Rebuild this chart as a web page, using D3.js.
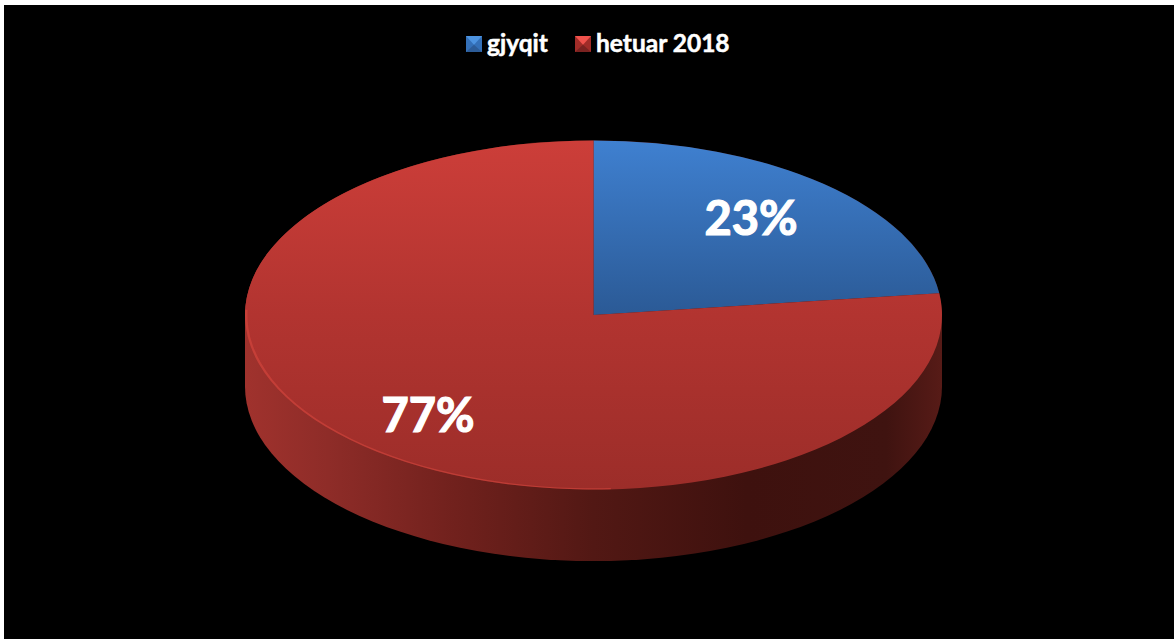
<!DOCTYPE html>
<html><head><meta charset="utf-8">
<script src="https://cdnjs.cloudflare.com/ajax/libs/d3/7.8.5/d3.min.js"></script>
<style>html,body{margin:0;padding:0;background:#fff;overflow:hidden}svg{display:block}text{font-family:Lato,sans-serif;font-weight:700;fill:#fff;stroke:#fff}</style>
</head><body><svg id="c" width="1174" height="639"></svg>
<script>
const categories = ["gjyqit", "hetuar 2018"];
const seriesValues = [23, 77];
const percentLabels = ["23%", "77%"];

const svg = d3.select("#c");
const defs = svg.append("defs");
svg.append("rect").attr("x",4).attr("y",5).attr("width",1170).attr("height",634).attr("fill","#000");

const cx=593.5, cy=315, rx=348.5, ry=174.5, depth=71.5;
const R=100;
const pie=d3.pie().sort(null).value(d=>d);
const arcs=pie(seriesValues);
const arcGen=d3.arc().innerRadius(0).outerRadius(R);

function lg(id,stops,x1,y1,x2,y2){
  const g=defs.append("linearGradient").attr("id",id).attr("gradientUnits","userSpaceOnUse")
   .attr("x1",x1).attr("y1",y1).attr("x2",x2).attr("y2",y2);
  stops.forEach(s=>g.append("stop").attr("offset",s[0]).attr("stop-color",s[1]));
}
lg("side",[[0,"#a0322d"],[0.12,"#8e2c28"],[0.3,"#71211d"],[0.5,"#521814"],[0.72,"#3e110e"],[0.92,"#3f1310"],[1,"#571b17"]],cx-rx,0,cx+rx,0);

// side wall: full upper ellipse is hidden under the faces, so no seam shows
const sx=d3.scaleLinear().domain([-1,1]).range([cx-rx,cx+rx]);
const wall=`M${sx(-1)},${cy}A${rx},${ry} 0 0 1 ${sx(1)},${cy}L${sx(1)},${cy+depth}A${rx},${ry} 0 0 1 ${sx(-1)},${cy+depth}Z`;
svg.append("path").attr("d",wall).attr("fill","url(#side)");

// top faces
const toLocal=y=>(y-cy)/(ry/R);
lg("faceB0",[[0,"#3f80d0"],[1,"#2b5a96"]],0,toLocal(141),0,toLocal(314));
lg("faceB1",[[0,"#cc3e39"],[0.5,"#b23430"],[1,"#9c2d29"]],0,toLocal(141),0,toLocal(490));
const face=svg.append("g").attr("transform",`translate(${cx},${cy}) scale(${rx/R},${ry/R})`);
face.selectAll("path.slice").data(arcs).join("path").attr("class","slice").attr("d",arcGen)
  .attr("fill",(d,i)=>`url(#faceB${i})`);

// rim highlight along the front-left edge
const rimArc=d3.arc().innerRadius(R-0.7).outerRadius(R);
face.append("path").attr("d",rimArc({startAngle:Math.PI-0.05,endAngle:Math.PI*1.5+0.03}))
  .attr("fill","#d8493f").attr("opacity",0.55);

// labels
const labelPos=[[751,235],[428,432]];
svg.selectAll("text.pct").data(percentLabels).join("text").attr("class","pct")
  .attr("x",(d,i)=>labelPos[i][0]).attr("y",(d,i)=>labelPos[i][1])
  .attr("text-anchor","middle").attr("font-size",47).attr("stroke-width",1.2).text(d=>d);

// legend
const swatch=[{x:466,t:"#4c93e0",b:"#2c5c98",s:"#3470b8"},{x:575,t:"#f0524c",b:"#7a2220",s:"#a02c28"}];
const textX=[487,596], s=16, ly=36;
const lgd=svg.append("g");
categories.forEach((c,i)=>{
  const w=swatch[i], m=s/2;
  const g=lgd.append("g").attr("transform",`translate(${w.x},${ly})`);
  g.append("rect").attr("width",s).attr("height",s).attr("fill",w.s);
  g.append("path").attr("d",`M0,0L${s},0L${m},${s*0.55}Z`).attr("fill",w.t);
  g.append("path").attr("d",`M0,${s}L${s},${s}L${m},${s*0.55}Z`).attr("fill",w.b);
  lgd.append("text").attr("x",textX[i]).attr("y",52).attr("font-size",24.5).attr("stroke-width",0.5).text(c);
});
</script></body></html>
